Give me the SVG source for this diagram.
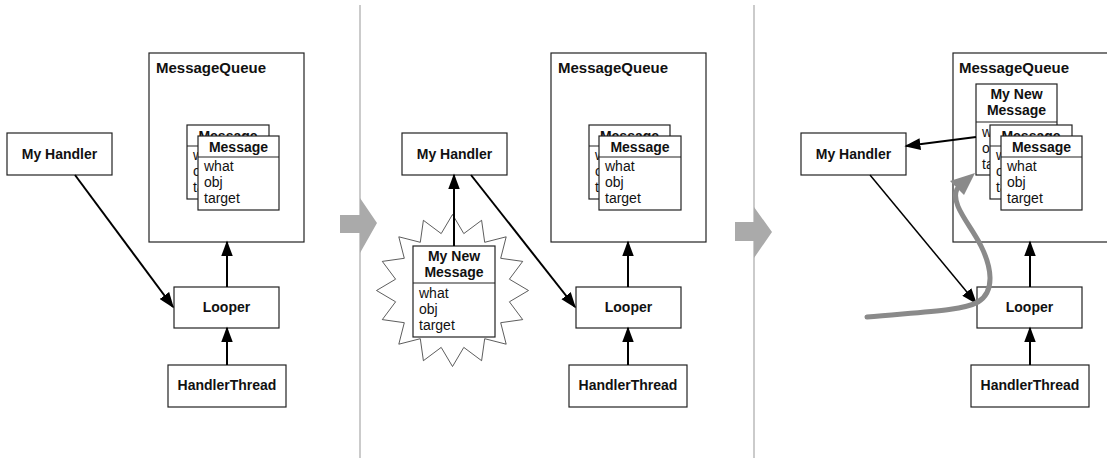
<svg xmlns="http://www.w3.org/2000/svg" width="1107" height="465" viewBox="0 0 1107 465">
<style>
.box{fill:#fff;stroke:#222;stroke-width:1.2}
.t{font-family:"Liberation Sans",Arial,Helvetica,sans-serif;font-size:14px;fill:#111}
.b{font-weight:bold;text-anchor:middle}
.mq{font-weight:bold;font-size:15px}
.conn{stroke:#000;stroke-width:2;fill:none;marker-end:url(#ah)}
.thin{stroke-width:1.5}
.div{stroke:#cbcbcb;stroke-width:2}
.chev{fill:#aaa}
.star{fill:#fff;stroke:#333;stroke-width:0.8}
.curve{fill:none;stroke:#8a8a8a;stroke-width:5;stroke-linecap:round}
</style>
<defs>
<marker id="ah" markerUnits="userSpaceOnUse" markerWidth="16" markerHeight="12" viewBox="0 0 15 11" refX="13.5" refY="5.5" orient="auto">
<path d="M0,0 L15,5.5 L0,11 z" fill="#000"/>
</marker>
</defs>
<rect width="1107" height="465" fill="#fff"/>

<!-- separators -->
<g id="separators">
<line class="div" x1="360" y1="5" x2="360" y2="458"/>
<line class="div" x1="754" y1="5" x2="754" y2="458"/>
<polygon class="chev" points="340,215 360,215 360,198 377,223 360,253 360,233 340,233"/>
<polygon class="chev" points="735,222 754,222 754,207 772,232 754,258 754,241 735,241"/>
</g>

<!-- ===== Panel 1 ===== -->
<g id="p1-messagequeue">
<rect class="box" x="149" y="53" width="155" height="189"/>
<text class="t mq" x="156" y="73">MessageQueue</text>
<rect class="box" x="187" y="125" width="82" height="74"/>
<line class="box" x1="187" y1="146" x2="269" y2="146"/>
<text class="t b" x="228" y="140.5">Message</text>
<text class="t" x="193" y="160">what</text>
<text class="t" x="193" y="176">obj</text>
<text class="t" x="193" y="192">target</text>
<rect class="box" x="198" y="136" width="81" height="74"/>
<line class="box" x1="198" y1="157" x2="279" y2="157"/>
<text class="t b" x="238.5" y="151.5">Message</text>
<text class="t" x="204" y="171">what</text>
<text class="t" x="204" y="187">obj</text>
<text class="t" x="204" y="203">target</text>
</g>
<g id="p1-myhandler">
<rect class="box" x="7" y="133" width="105" height="42"/>
<text class="t b" x="59.5" y="159">My Handler</text>
</g>
<g id="p1-looper">
<rect class="box" x="174" y="287" width="105" height="41"/>
<text class="t b" x="226.5" y="312">Looper</text>
</g>
<g id="p1-handlerthread">
<rect class="box" x="168" y="365" width="118" height="42"/>
<text class="t b" x="227" y="390">HandlerThread</text>
</g>

<!-- ===== Panel 2 ===== -->
<g id="p2-messagequeue">
<rect class="box" x="551" y="53" width="155" height="189"/>
<text class="t mq" x="558" y="73">MessageQueue</text>
<rect class="box" x="589" y="125" width="81" height="74"/>
<line class="box" x1="589" y1="146" x2="670" y2="146"/>
<text class="t b" x="629.5" y="140.5">Message</text>
<text class="t" x="595" y="160">what</text>
<text class="t" x="595" y="176">obj</text>
<text class="t" x="595" y="192">target</text>
<rect class="box" x="599" y="136" width="82" height="74"/>
<line class="box" x1="599" y1="157" x2="681" y2="157"/>
<text class="t b" x="640" y="151.5">Message</text>
<text class="t" x="605" y="171">what</text>
<text class="t" x="605" y="187">obj</text>
<text class="t" x="605" y="203">target</text>
</g>
<g id="p2-myhandler">
<rect class="box" x="402" y="133" width="105" height="42"/>
<text class="t b" x="454.5" y="159">My Handler</text>
</g>
<g id="p2-looper">
<rect class="box" x="576" y="287" width="105" height="41"/>
<text class="t b" x="628.5" y="312">Looper</text>
</g>
<g id="p2-handlerthread">
<rect class="box" x="569" y="365" width="118" height="42"/>
<text class="t b" x="628" y="390">HandlerThread</text>
</g>
<g id="p2-newmessage">
<polygon class="star" points="452.5,214.5 463.8,233.6 481.6,220.3 484.7,242.3 506.2,236.8 500.7,258.3 522.7,261.4 509.4,279.2 528.5,290.5 509.4,301.8 522.7,319.6 500.7,322.7 506.2,344.2 484.7,338.7 481.6,360.7 463.8,347.4 452.5,366.5 441.2,347.4 423.4,360.7 420.3,338.7 398.8,344.2 404.3,322.7 382.3,319.6 395.6,301.8 376.5,290.5 395.6,279.2 382.3,261.4 404.3,258.3 398.8,236.8 420.3,242.3 423.4,220.3 441.2,233.6"/>
<rect class="box" x="413" y="246" width="82" height="91"/>
<line class="box" x1="413" y1="283" x2="495" y2="283"/>
<text class="t b" x="454" y="261">My New</text>
<text class="t b" x="454" y="277">Message</text>
<text class="t" x="419" y="298">what</text>
<text class="t" x="419" y="314">obj</text>
<text class="t" x="419" y="330">target</text>
</g>

<!-- ===== Panel 3 ===== -->
<g id="p3-messagequeue">
<rect class="box" x="953" y="53" width="170" height="189"/>
<text class="t mq" x="959" y="73">MessageQueue</text>
<rect class="box" x="976" y="84" width="81" height="91"/>
<line class="box" x1="976" y1="122" x2="1057" y2="122"/>
<text class="t b" x="1016.5" y="99">My New</text>
<text class="t b" x="1016.5" y="115">Message</text>
<text class="t" x="982" y="137">what</text>
<text class="t" x="982" y="153">obj</text>
<text class="t" x="982" y="169">target</text>
<rect class="box" x="990" y="125" width="82" height="74"/>
<line class="box" x1="990" y1="146" x2="1072" y2="146"/>
<text class="t b" x="1031" y="140.5">Message</text>
<text class="t" x="996" y="160">what</text>
<text class="t" x="996" y="176">obj</text>
<text class="t" x="996" y="192">target</text>
<rect class="box" x="1001" y="136" width="81" height="74"/>
<line class="box" x1="1001" y1="157" x2="1082" y2="157"/>
<text class="t b" x="1041.5" y="151.5">Message</text>
<text class="t" x="1007" y="171">what</text>
<text class="t" x="1007" y="187">obj</text>
<text class="t" x="1007" y="203">target</text>
</g>
<g id="p3-myhandler">
<rect class="box" x="801" y="133" width="105" height="42"/>
<text class="t b" x="853.5" y="159">My Handler</text>
</g>
<g id="p3-looper">
<rect class="box" x="977" y="287" width="105" height="41"/>
<text class="t b" x="1029.5" y="312">Looper</text>
</g>
<g id="p3-handlerthread">
<rect class="box" x="971" y="365" width="118" height="42"/>
<text class="t b" x="1030" y="390">HandlerThread</text>
</g>

<!-- connectors -->
<g id="connectors">
<line class="conn" x1="75" y1="175" x2="173" y2="307"/>
<line class="conn" x1="227" y1="287" x2="227" y2="242"/>
<line class="conn" x1="227" y1="365" x2="227" y2="328"/>
<line class="conn" x1="454" y1="246" x2="454" y2="175"/>
<line class="conn" x1="471" y1="175" x2="575" y2="307"/>
<line class="conn" x1="628" y1="287" x2="628" y2="242"/>
<line class="conn" x1="628" y1="365" x2="628" y2="328"/>
<line class="conn" x1="976" y1="137" x2="906" y2="146"/>
<line class="conn thin" x1="870" y1="175" x2="976" y2="303"/>
<line class="conn" x1="1030" y1="287" x2="1030" y2="242"/>
<line class="conn" x1="1030" y1="365" x2="1030" y2="328"/>
<path class="curve" d="M867,317 C920,312 962,311 978,302 C996,291 991,266 981,246 C970,224 950,204 957,189"/>
<polygon points="975,173 950,181 964,195" fill="#8a8a8a"/>
</g>
</svg>
